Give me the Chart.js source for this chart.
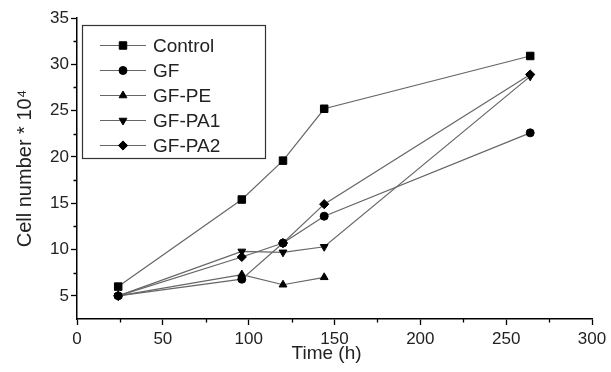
<!DOCTYPE html>
<html>
<head>
<meta charset="utf-8">
<script src="https://cdn.jsdelivr.net/npm/chart.js@4.4.1/dist/chart.umd.min.js"></script>
<style>
  html, body { margin: 0; padding: 0; background: #fff; }
  canvas { display: block; }
</style>
</head>
<body>
<canvas id="chart" width="611" height="372"></canvas>
<script>
// time points (h)
var times = [24, 96, 120, 144, 264];

// cell number * 10^4
var control = [6.0, 15.4, 19.6, 25.2, 30.9];
var gf      = [5.0, 6.8, 10.7, 13.6, 22.6];
var gfPE    = [5.0, 7.3, 6.2, 7.0];
var gfPA1   = [5.0, 9.8, 9.7, 10.3, 28.7];
var gfPA2   = [5.0, 9.2, 10.7, 14.9, 28.9];

var xTicks = [0, 50, 100, 150, 200, 250, 300];
var xMinor = [25, 75, 125, 175, 225, 275];
var yTicks = [5, 10, 15, 20, 25, 30, 35];
var yMinor = [7.5, 12.5, 17.5, 22.5, 27.5, 32.5];

var FONT = '"Liberation Sans", Arial, Helvetica, sans-serif';
var LINE = '#666';

function pts(vals) {
  return vals.map(function (v, i) { return { x: times[i], y: v }; });
}

function series(label, vals, style, radius, rotation) {
  return {
    label: label,
    data: pts(vals),
    borderColor: LINE,
    borderWidth: 1.2,
    pointStyle: style,
    pointRadius: radius,
    pointRotation: rotation || 0,
    pointBackgroundColor: '#000',
    pointBorderColor: '#000',
    pointBorderWidth: 1,
    tension: 0,
  };
}

// small ticks between the labelled ones
var minorTicks = {
  id: 'minorTicks',
  afterDraw: function (chart) {
    var ctx = chart.ctx, xs = chart.scales.x, ys = chart.scales.y;
    var a = chart.chartArea;
    ctx.save();
    ctx.strokeStyle = '#000';
    ctx.lineWidth = 1.3;
    ctx.beginPath();
    xMinor.forEach(function (v) {
      var px = Math.round(xs.getPixelForValue(v)) + 0.5;
      ctx.moveTo(px, a.bottom);
      ctx.lineTo(px, a.bottom + 3.5);
    });
    yMinor.forEach(function (v) {
      var py = Math.round(ys.getPixelForValue(v)) + 0.5;
      ctx.moveTo(a.left, py);
      ctx.lineTo(a.left - 3.5, py);
    });
    ctx.stroke();
    ctx.restore();
  }
};

// boxed legend inside the plot, line-marker-line per entry
var boxLegend = {
  id: 'boxLegend',
  afterDraw: function (chart) {
    var ctx = chart.ctx, a = chart.chartArea;
    var bx = a.left + 5, by = a.top + 7, bw = 183, bh = 133;
    ctx.save();
    ctx.strokeStyle = '#333';
    ctx.lineWidth = 1.2;
    ctx.strokeRect(bx + 0.5, by + 0.5, bw, bh);
    chart.data.datasets.forEach(function (ds, i) {
      var y = by + 20.5 + i * 25;
      ctx.strokeStyle = LINE;
      ctx.lineWidth = 1.2;
      ctx.beginPath();
      ctx.moveTo(bx + 18, y);
      ctx.lineTo(bx + 64, y);
      ctx.stroke();
      ctx.fillStyle = '#000';
      ctx.strokeStyle = '#000';
      ctx.lineWidth = 1;
      Chart.helpers.drawPoint(ctx, {
        pointStyle: ds.pointStyle,
        radius: ds.pointRadius,
        rotation: ds.pointRotation,
        borderWidth: 1,
      }, bx + 41, y);
      ctx.fillStyle = '#222';
      ctx.font = '19px ' + FONT;
      ctx.textBaseline = 'middle';
      ctx.textAlign = 'left';
      ctx.fillText(ds.label, bx + 71, y + 1);
    });
    ctx.restore();
  }
};

var ctx = document.getElementById('chart').getContext('2d');
var myChart = new Chart(ctx, {
  type: 'line',
  data: {
    datasets: [
      series('Control', control, 'rect', 5.3),
      series('GF', gf, 'circle', 4),
      series('GF-PE', gfPE, 'triangle', 4.5),
      series('GF-PA1', gfPA1, 'triangle', 4.5, 180),
      series('GF-PA2', gfPA2, 'rectRot', 4.6),
    ],
  },
  options: {
    responsive: false,
    animation: false,
    devicePixelRatio: 1,
    layout: { padding: { left: 0, right: 19, top: 18, bottom: 0 } },
    plugins: {
      legend: { display: false },
      tooltip: { enabled: false },
    },
    scales: {
      x: {
        type: 'linear',
        min: 0,
        max: 300,
        afterBuildTicks: function (s) {
          s.ticks = xTicks.map(function (v) { return { value: v }; });
        },
        afterFit: function (s) { s.height = 53; },
        border: { color: '#000', width: 1.5 },
        grid: { drawOnChartArea: false, color: '#000', tickLength: 6, tickWidth: 1.3 },
        ticks: { color: '#222', font: { family: FONT, size: 17 }, padding: 4, maxRotation: 0 },
        title: {
          display: true,
          text: 'Time (h)   ',
          color: '#222',
          font: { family: FONT, size: 19 },
          padding: { top: 0, bottom: 7 },
        },
      },
      y: {
        min: 2.5,
        max: 35,
        afterBuildTicks: function (s) {
          s.ticks = yTicks.map(function (v) { return { value: v }; });
        },
        afterFit: function (s) { s.width = 77; },
        border: { color: '#000', width: 1.5 },
        grid: { drawOnChartArea: false, color: '#000', tickLength: 6, tickWidth: 1.3 },
        ticks: { color: '#222', font: { family: FONT, size: 17 }, padding: 2 },
        title: {
          display: true,
          text: 'Cell number * 10\u2074',
          color: '#222',
          font: { family: FONT, size: 20 },
          padding: { top: 13, bottom: 0 },
        },
      },
    },
  },
  plugins: [minorTicks, boxLegend],
});
</script>
</body>
</html>
